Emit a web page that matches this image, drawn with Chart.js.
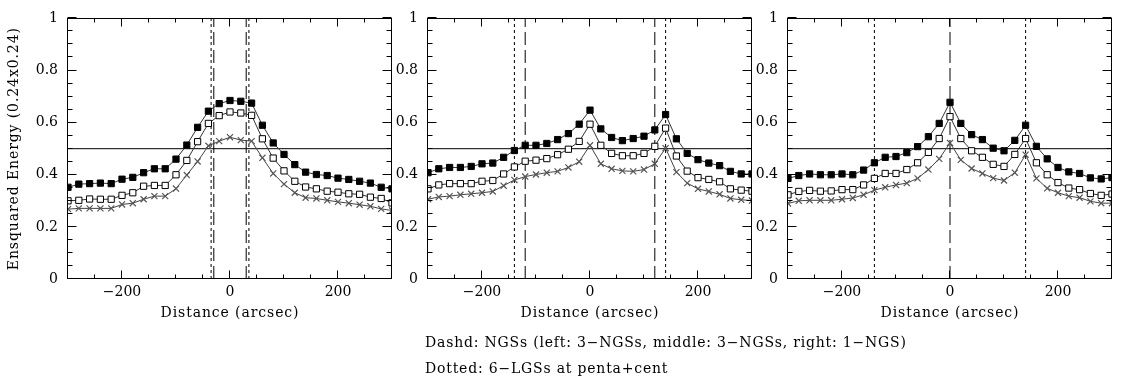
<!DOCTYPE html>
<html>
<head>
<meta charset="utf-8">
<script src="https://cdn.jsdelivr.net/npm/chart.js@4/dist/chart.umd.min.js"></script>
<style>
  html, body { margin: 0; padding: 0; background: #fff; }
  #wrap { position: relative; width: 1122px; height: 382px; overflow: hidden; background: #fff; }
  canvas { position: absolute; top: 0; }
  .note { position: absolute; left: 425px; font-family: 'DejaVu Serif', serif; font-size: 14px; color: #000; white-space: nowrap; line-height: 16px; letter-spacing: 0.8px; }
</style>
</head>
<body>
<div id="wrap">
  <canvas id="c0" style="left:0px"></canvas>
  <canvas id="c1" style="left:360px"></canvas>
  <canvas id="c2" style="left:720px"></canvas>
  <div class="note" style="top:334px">Dashd: NGSs (left: 3−NGSs, middle: 3−NGSs, right: 1−NGS)</div>
  <div class="note" style="top:360px">Dotted: 6−LGSs at penta+cent</div>
</div>
<script>
// ---- data ----
const distance = [-300,-280,-260,-240,-220,-200,-180,-160,-140,-120,-100,-80,-60,-40,-20,0,20,40,60,80,100,120,140,160,180,200,220,240,260,280,300];

// left panel
const leftFilled = [0.352,0.364,0.366,0.368,0.366,0.383,0.390,0.408,0.423,0.423,0.460,0.514,0.582,0.644,0.673,0.685,0.682,0.675,0.590,0.522,0.478,0.439,0.410,0.401,0.397,0.387,0.382,0.375,0.368,0.352,0.346];
const leftOpen   = [0.300,0.302,0.307,0.306,0.306,0.321,0.331,0.356,0.359,0.359,0.400,0.455,0.527,0.597,0.627,0.641,0.637,0.628,0.538,0.464,0.415,0.375,0.353,0.346,0.337,0.333,0.327,0.325,0.314,0.309,0.292];
const leftCross  = [0.268,0.271,0.271,0.271,0.271,0.286,0.291,0.306,0.318,0.318,0.347,0.399,0.451,0.511,0.529,0.544,0.533,0.529,0.465,0.405,0.364,0.331,0.312,0.309,0.302,0.296,0.291,0.285,0.279,0.269,0.263];

// middle panel
const midFilled = [0.408,0.423,0.428,0.428,0.432,0.442,0.445,0.467,0.493,0.513,0.513,0.520,0.535,0.558,0.594,0.648,0.576,0.543,0.531,0.539,0.548,0.572,0.631,0.538,0.482,0.458,0.445,0.435,0.413,0.403,0.403];
const midOpen   = [0.346,0.361,0.366,0.366,0.366,0.375,0.378,0.403,0.430,0.452,0.456,0.462,0.477,0.498,0.528,0.594,0.513,0.482,0.473,0.473,0.482,0.509,0.579,0.472,0.414,0.389,0.382,0.373,0.346,0.341,0.337];
const midCross  = [0.306,0.315,0.318,0.323,0.327,0.331,0.336,0.358,0.380,0.393,0.401,0.408,0.413,0.428,0.450,0.513,0.442,0.423,0.415,0.413,0.420,0.442,0.502,0.410,0.368,0.346,0.336,0.325,0.309,0.304,0.301];

// right panel
const rightFilled = [0.386,0.397,0.403,0.400,0.400,0.403,0.400,0.418,0.446,0.467,0.470,0.485,0.508,0.546,0.597,0.678,0.597,0.554,0.535,0.502,0.492,0.532,0.590,0.509,0.461,0.428,0.411,0.405,0.388,0.384,0.389];
const rightOpen   = [0.323,0.336,0.340,0.337,0.338,0.343,0.343,0.361,0.386,0.405,0.405,0.420,0.446,0.486,0.539,0.623,0.539,0.492,0.467,0.440,0.432,0.478,0.539,0.446,0.400,0.370,0.349,0.343,0.328,0.321,0.326];
const rightCross  = [0.290,0.300,0.302,0.302,0.302,0.306,0.311,0.323,0.341,0.352,0.361,0.368,0.386,0.420,0.461,0.522,0.457,0.424,0.405,0.387,0.378,0.408,0.477,0.386,0.348,0.331,0.318,0.312,0.298,0.291,0.291];

// guide lines
const thresholdLevel = 0.5;
const leftDashed  = [-30, 30];
const leftDotted  = [-35, 35];
const midDashed   = [-120, 120];
const midDotted   = [-140, 140];
const rightDashed = [0];
const rightDotted = [-140, 140];

// axis ticks
const xTickLabels = [-200, 0, 200];
const yTickLabels = [0, 0.2, 0.4, 0.6, 0.8, 1];

// ---- chart construction ----
Chart.defaults.font.family = "'DejaVu Serif', serif";
Chart.defaults.font.size = 14;
Chart.defaults.color = '#000';
Chart.defaults.animation = false;

// axis titles are drawn with a little extra letter spacing (wider glyph spacing in the reference)
(function () {
  const proto = Chart.LinearScale.prototype;
  const orig = Chart.Scale.prototype.drawTitle;
  proto.drawTitle = function () {
    const ctx = this.ctx;
    ctx.save();
    try { ctx.letterSpacing = '0.9px'; } catch (e) {}
    orig.call(this);
    ctx.restore();
  };
})();

const toXY = (vals) => distance.map((d, i) => ({ x: d, y: vals[i] }));

function seriesSets(filled, open, cross) {
  return [
    { data: toXY(filled), borderColor: '#333', borderWidth: 1, pointStyle: 'rect', pointRadius: 4.4,
      pointBackgroundColor: '#000', pointBorderColor: '#000', pointBorderWidth: 1, showLine: true, tension: 0 },
    { data: toXY(open), borderColor: '#333', borderWidth: 1, pointStyle: 'rect', pointRadius: 4.4,
      pointBackgroundColor: '#fff', pointBorderColor: '#000', pointBorderWidth: 1, showLine: true, tension: 0 },
    { data: toXY(cross), borderColor: '#444', borderWidth: 1, pointStyle: 'crossRot', pointRadius: 4.3,
      pointBackgroundColor: '#555', pointBorderColor: '#555', pointBorderWidth: 1.2, showLine: true, tension: 0 }
  ];
}

function guideSets(dashed, dotted) {
  const sets = [];
  sets.push({ data: [{ x: -300, y: thresholdLevel }, { x: 300, y: thresholdLevel }], borderColor: '#000', borderWidth: 1,
    pointRadius: 0, showLine: true });
  dashed.forEach(v => sets.push({ data: [{ x: v, y: 0 }, { x: v, y: 1 }], borderColor: '#000', borderWidth: 1,
    borderDash: [13, 5], pointRadius: 0, showLine: true }));
  dotted.forEach(v => sets.push({ data: [{ x: v, y: 0 }, { x: v, y: 1 }], borderColor: '#000', borderWidth: 1,
    borderDash: [3, 3], pointRadius: 0, showLine: true }));
  return sets;
}

const frameTicks = {
  id: 'frameTicks',
  afterDatasetsDraw(chart) {
    const { ctx, chartArea: a, scales: { x, y } } = chart;
    ctx.save();
    ctx.strokeStyle = '#000';
    ctx.lineWidth = 1;
    const L = Math.round(a.left) - 0.5, R = Math.round(a.right) - 0.5;
    const T = Math.round(a.top) + 0.5, B = Math.round(a.bottom) - 0.5;
    ctx.strokeRect(L, T, R - L, B - T);
    ctx.beginPath();
    for (let v = -300; v <= 300; v += 50) {
      const px = Math.round(x.getPixelForValue(v)) - 0.5;
      const len = (v % 200 === 0) ? 8 : 4;
      ctx.moveTo(px, B); ctx.lineTo(px, B - len);
      ctx.moveTo(px, T); ctx.lineTo(px, T + len);
    }
    for (let k = 0; k <= 20; k++) {
      const v = k * 0.05;
      const py = Math.round(y.getPixelForValue(v)) - 0.5;
      const len = (k % 4 === 0) ? 9 : 5;
      ctx.moveTo(L, py); ctx.lineTo(L + len, py);
      ctx.moveTo(R, py); ctx.lineTo(R - len, py);
    }
    ctx.stroke();
    ctx.restore();
  }
};

function makeChart(id, width, sets, showYTitle) {
  const cv = document.getElementById(id);
  cv.width = width; cv.height = 382;
  cv.style.width = width + 'px'; cv.style.height = '382px';
  return new Chart(cv, {
    type: 'scatter',
    data: { datasets: sets },
    options: {
      responsive: false,
      devicePixelRatio: 1,
      animation: false,
      layout: { padding: { left: 0, right: width - 392, top: 10, bottom: 0 } },
      plugins: { legend: { display: false }, tooltip: { enabled: false } },
      elements: { line: { fill: false } },
      scales: {
        x: {
          type: 'linear', min: -300, max: 300,
          grid: { display: false, drawTicks: false },
          border: { display: false },
          afterBuildTicks: (s) => { s.ticks = xTickLabels.map(v => ({ value: v })); },
          ticks: { padding: 5, maxRotation: 0, autoSkip: false,
            callback: (v) => String(v).replace('-', '\u2212') },
          title: { display: true, text: 'Distance (arcsec)', padding: { top: 0, bottom: 60 } },
          afterFit: (s) => { s.height = 103; }
        },
        y: {
          type: 'linear', min: 0, max: 1,
          grid: { display: false, drawTicks: false },
          border: { display: false },
          afterBuildTicks: (s) => { s.ticks = yTickLabels.map(v => ({ value: v })); },
          ticks: { padding: 10, autoSkip: false, callback: (v) => String(v) },
          title: { display: showYTitle, text: 'Ensquared Energy (0.24x0.24)', padding: { top: 6, bottom: 0 } },
          afterFit: (s) => { s.width = 68; }
        }
      }
    },
    plugins: [frameTicks]
  });
}

makeChart('c0', 400, [...seriesSets(leftFilled, leftOpen, leftCross), ...guideSets(leftDashed, leftDotted)], true);
makeChart('c1', 400, [...seriesSets(midFilled, midOpen, midCross), ...guideSets(midDashed, midDotted)], false);
makeChart('c2', 402, [...seriesSets(rightFilled, rightOpen, rightCross), ...guideSets(rightDashed, rightDotted)], false);
</script>
</body>
</html>
